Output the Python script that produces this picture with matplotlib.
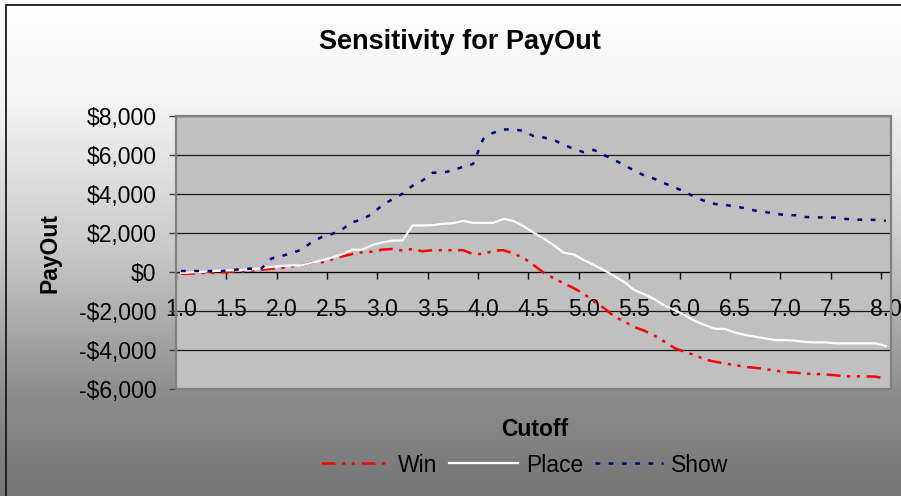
import numpy as np
import matplotlib.pyplot as plt
from matplotlib.patches import Rectangle
from matplotlib.ticker import FuncFormatter

plt.rcParams['font.family'] = ['Liberation Sans', 'DejaVu Sans']

# cutoff categories 1.0 .. 8.0
cutoff = [1.0, 1.1, 1.2, 1.3, 1.4, 1.5, 1.6, 1.7, 1.8, 1.9,
          2.0, 2.1, 2.2, 2.3, 2.4, 2.5, 2.6, 2.7, 2.8, 2.9,
          3.0, 3.1, 3.2, 3.3, 3.4, 3.5, 3.6, 3.7, 3.8, 3.9,
          4.0, 4.1, 4.2, 4.3, 4.4, 4.5, 4.6, 4.7, 4.8, 4.9,
          5.0, 5.1, 5.2, 5.3, 5.4, 5.5, 5.6, 5.7, 5.8, 5.9,
          6.0, 6.1, 6.2, 6.3, 6.4, 6.5, 6.6, 6.7, 6.8, 6.9,
          7.0, 7.1, 7.2, 7.3, 7.4, 7.5, 7.6, 7.7, 7.8, 7.9, 8.0]

win = [-90, -90, -50, -50, -20, 20, 30, 70, 120, 170,
       200, 290, 340, 480, 500, 650, 800, 920, 1010, 1040,
       1150, 1180, 1100, 1180, 1060, 1120, 1120, 1120, 1120, 920,
       920, 1090, 1120, 950, 730, 360, -30, -320, -580, -830,
       -1120, -1510, -1850, -2280, -2530, -2820, -3010, -3260, -3570, -3900,
       -4090, -4260, -4480, -4600, -4690, -4770, -4870, -4910, -4980, -5060,
       -5130, -5160, -5220, -5230, -5250, -5300, -5350, -5350, -5350, -5370, -5470]

place = [-50, -20, 0, 50, 70, 90, 100, 140, 200, 260,
         310, 340, 340, 480, 600, 740, 910, 1150, 1150, 1390,
         1520, 1610, 1620, 2390, 2390, 2400, 2470, 2500, 2620, 2520,
         2520, 2520, 2720, 2620, 2350, 2020, 1720, 1380, 990, 900,
         610, 360, 90, -200, -510, -920, -1140, -1390, -1720, -1950,
         -2210, -2500, -2720, -2910, -2920, -3100, -3230, -3320, -3400, -3490,
         -3490, -3520, -3590, -3610, -3610, -3660, -3660, -3660, -3660, -3660, -3800]

show = [50, 50, 50, 50, 50, 90, 150, 170, 190, 700,
        820, 975, 1150, 1540, 1800, 1950, 2190, 2550, 2700, 2990,
        3440, 3730, 4020, 4430, 4700, 5090, 5100, 5200, 5400, 5540,
        6820, 7140, 7310, 7310, 7240, 6970, 6900, 6770, 6530, 6310,
        6140, 6260, 6000, 5750, 5490, 5200, 4950, 4780, 4550, 4340,
        4120, 3850, 3640, 3490, 3440, 3370, 3270, 3150, 3080, 2990,
        2920, 2910, 2820, 2800, 2800, 2790, 2720, 2680, 2680, 2670, 2630]

label_every = 5
y_ticks = [-6000, -4000, -2000, 0, 2000, 4000, 6000, 8000]

W, H = 901, 496
fig = plt.figure(figsize=(W / 100, H / 100), dpi=100)

# gradient background (white at top to grey at bottom)
bg = fig.add_axes([0, 0, 1, 1], zorder=-10)
rows = np.linspace(0, 1, 256)
shade = np.interp(rows, [0, 0.2, 0.5, 0.8, 1.0], [1.0, 0.96, 0.79, 0.55, 0.46])
bg.imshow(np.dstack([shade, shade, shade]).reshape(256, 1, 3),
          aspect='auto', extent=[0, 1, 0, 1], origin='upper')
bg.set_xlim(0, 1)
bg.set_ylim(0, 1)
bg.axis('off')
bg.add_patch(Rectangle((6 / W, -0.1), 1.2, 1.1 - 5 / H, fill=False,
                       edgecolor='#1a1a1a', lw=1.3))

ax = fig.add_axes([176 / W, 1 - 389 / H, 715 / W, 273 / H])
ax.set_facecolor('#C0C0C0')

x = np.arange(len(cutoff))
ax.plot(x, win, color='#FF0000', lw=1.8, ls=(0, (5.6, 2.6, 1.3, 2.6, 1.3, 2.6)),
        label='Win', zorder=3)
ax.plot(x, place, color='white', lw=1.6, ls='-', label='Place', zorder=3)
ax.plot(x, show, color='#000080', lw=1.8, ls=(0, (1.9, 3.4)), label='Show', zorder=3)

ax.set_xlim(-0.5, len(cutoff) - 0.5)
ax.set_ylim(-6000, 8000)

ax.set_yticks(y_ticks)
ax.yaxis.set_major_formatter(FuncFormatter(
    lambda v, p: ('-$' if v < 0 else '$') + format(int(abs(v)), ',')))
ax.yaxis.grid(True, color='#1a1a1a', lw=0.9)
ax.set_axisbelow(True)

major = x[::label_every]
ax.set_xticks(major)
ax.set_xticklabels(['%.1f' % cutoff[i] for i in major])
ax.set_xticks(np.arange(-0.5, len(cutoff), label_every), minor=True)
ax.tick_params(axis='x', which='major', length=0, pad=19, labelsize=16.5)
ax.tick_params(axis='x', which='minor', length=5, width=1, color='black', direction='out')
ax.tick_params(axis='y', length=5, width=1, color='#404040', pad=9, labelsize=16.5)

for s in ['top', 'right']:
    ax.spines[s].set_visible(False)
ax.spines['bottom'].set_position(('data', 0))
ax.spines['bottom'].set_color('black')
ax.spines['bottom'].set_zorder(2)
ax.spines['left'].set_color('#404040')
ax.spines['left'].set_linewidth(1.2)
ax.add_patch(Rectangle((0, 0), 1, 1, transform=ax.transAxes, fill=False,
                       edgecolor='#808080', lw=1.6, zorder=4, clip_on=False))

fig.text(460 / W, 1 - 42 / H, 'Sensitivity for PayOut', ha='center', va='center',
         fontsize=19.5, fontweight='bold')
fig.text(535 / W, 1 - 430 / H, 'Cutoff', ha='center', va='center',
         fontsize=16.5, fontweight='bold')
fig.text(50 / W, 1 - 253 / H, 'PayOut', ha='center', va='center', rotation=90,
         fontsize=16.5, fontweight='bold')

fig.legend(loc='center', bbox_to_anchor=(525 / W, 1 - 465 / H), ncol=3,
           frameon=False, fontsize=16.5, handlelength=3.0, columnspacing=0.5,
           handletextpad=0.35)

fig.savefig('out.png', dpi=100)
